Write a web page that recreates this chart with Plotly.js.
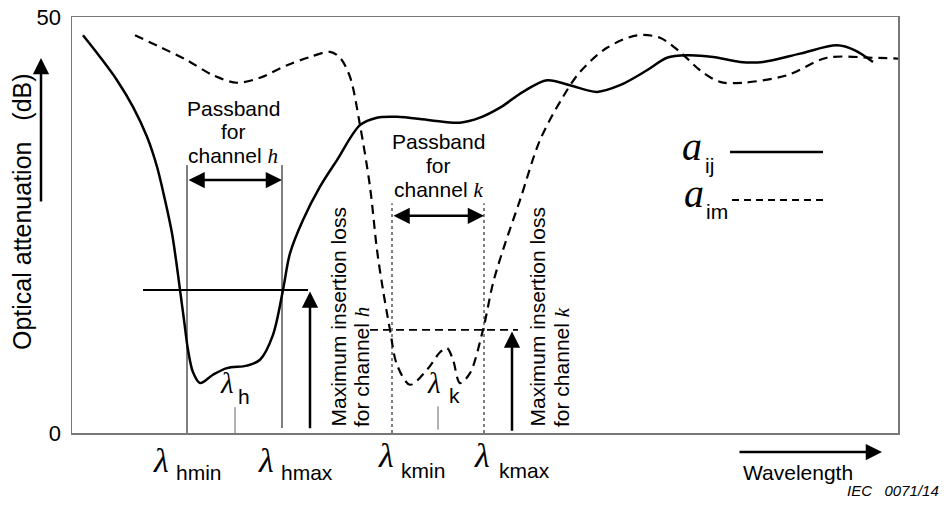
<!DOCTYPE html>
<html>
<head>
<meta charset="utf-8">
<script src="https://cdn.plot.ly/plotly-3.0.1.min.js"></script>
<style>html,body{margin:0;padding:0;background:#fff;}#chart{width:944px;height:509px;}</style>
</head>
<body>
<div id="chart"></div>
<script>
// ---- data (wavelength in arbitrary units, attenuation in dB) ----
const aijWavelength = [11, 28, 45, 61, 75, 85, 93, 100, 104, 108, 112, 116, 121, 128, 141, 155, 175, 188, 201, 211, 218, 231, 248, 265, 288, 305, 325, 358, 388, 408, 428, 451, 475, 498, 525, 548, 575, 595, 615, 641, 668, 691, 728, 765, 783, 801];
const aijAttenuation = [47.8, 45.2, 42.4, 39.2, 35.6, 32.0, 28.0, 24.0, 20.8, 17.2, 13.6, 10.0, 7.3, 6.0, 7.0, 7.8, 8.1, 8.8, 11.8, 17.2, 21.6, 25.6, 29.6, 32.8, 37.0, 37.9, 38.0, 37.6, 37.3, 37.9, 39.1, 41.0, 42.4, 41.8, 41.0, 41.8, 43.6, 45.1, 45.4, 45.2, 44.6, 44.6, 45.6, 46.6, 46.0, 44.6];
const aimWavelength = [63, 88, 115, 141, 165, 188, 215, 238, 258, 268, 278, 288, 298, 305, 311, 318, 325, 338, 355, 368, 375, 381, 388, 398, 411, 421, 431, 448, 468, 491, 508, 535, 565, 588, 608, 628, 648, 671, 715, 755, 801, 828];
const aimAttenuation = [47.8, 46.4, 44.8, 43.0, 42.1, 42.7, 44.2, 45.2, 45.8, 45.1, 42.8, 37.0, 29.6, 22.0, 17.2, 12.4, 8.2, 5.8, 7.6, 9.7, 10.2, 8.8, 6.0, 7.2, 12.4, 18.0, 22.0, 28.0, 35.2, 40.4, 43.4, 46.3, 47.8, 47.5, 45.8, 43.6, 42.2, 42.1, 43.0, 45.1, 45.1, 45.0];
const lambdaLabels = ["hmin", "hmax", "h", "kmin", "kmax", "k"];
const lambdaValues = [115, 210, 163, 320, 412, 366];
const maxInsertionLoss = { h: 17.2, k: 12.4 };
const yTickValues = [0, 50];
const yTickLabels = ["0", "50"];

// ---- layout helpers (pixel -> paper) ----
const L = 72, T = 17, W = 826, H = 416;
const PX = x => (x - L) / W;
const PY = y => (T + H - y) / H;
const SANS = "Arial, Liberation Sans, sans-serif";
const SERIF = "Liberation Serif, Times New Roman, serif";
const lam = Object.fromEntries(lambdaLabels.map((k, i) => [k, lambdaValues[i]]));

function txt(text, x, y, size, o) {
  o = o || {};
  return Object.assign({
    text: text, xref: 'paper', yref: 'paper', x: PX(x), y: PY(y),
    xanchor: 'center', yanchor: 'middle', showarrow: false,
    font: { family: o.family || SANS, size: size, color: '#000' }, borderpad: 0
  }, o.extra || {});
}
function dataArrow(x0, y0, x1, y1, both) {
  return {
    x: x1, y: y1, ax: x0, ay: y0, xref: 'x', yref: 'y', axref: 'x', ayref: 'y',
    text: '', showarrow: true, arrowhead: 2, arrowsize: 1.3, arrowwidth: 2.5,
    arrowcolor: '#000', arrowside: both ? 'end+start' : 'end', standoff: 0, startstandoff: 0
  };
}
const ital = s => '<span style="font-family:Liberation Serif;font-style:italic">' + s + '</span>';

const traces = [
  { x: aijWavelength, y: aijAttenuation, mode: 'lines', type: 'scatter', cliponaxis: false,
    line: { color: '#000', width: 2.5, shape: 'spline', smoothing: 0.9 }, hoverinfo: 'skip' },
  { x: aimWavelength, y: aimAttenuation, mode: 'lines', type: 'scatter', cliponaxis: false,
    line: { color: '#000', width: 2.2, dash: '9px,6px', shape: 'spline', smoothing: 0.9 }, hoverinfo: 'skip' }
];

const shapes = [
  { type: 'line', xref: 'x', yref: 'y', x0: lam.hmin, x1: lam.hmin, y0: 0, y1: 32.2, line: { color: '#000', width: 1 } },
  { type: 'line', xref: 'x', yref: 'y', x0: lam.hmax, x1: lam.hmax, y0: 0.6, y1: 32.2, line: { color: '#000', width: 1 } },
  { type: 'line', xref: 'x', yref: 'y', x0: lam.h, x1: lam.h, y0: 0, y1: 3.1, line: { color: '#666', width: 1 } },
  { type: 'line', xref: 'x', yref: 'y', x0: lam.kmin, x1: lam.kmin, y0: 0, y1: 27.6, line: { color: '#000', width: 1, dash: '3px,3px' } },
  { type: 'line', xref: 'x', yref: 'y', x0: lam.kmax, x1: lam.kmax, y0: 0, y1: 27.6, line: { color: '#000', width: 1, dash: '3px,3px' } },
  { type: 'line', xref: 'x', yref: 'y', x0: lam.k, x1: lam.k, y0: 0.4, y1: 3.2, line: { color: '#666', width: 1 } },
  { type: 'line', xref: 'x', yref: 'y', x0: 71, x1: 236, y0: maxInsertionLoss.h, y1: maxInsertionLoss.h, line: { color: '#000', width: 2 } },
  { type: 'line', xref: 'x', yref: 'y', x0: 298, x1: 446, y0: maxInsertionLoss.k, y1: maxInsertionLoss.k, line: { color: '#000', width: 1.8, dash: '8px,5px' } },
  // legend samples
  { type: 'line', xref: 'paper', yref: 'paper', x0: PX(730), x1: PX(823), y0: PY(152), y1: PY(152), line: { color: '#000', width: 2.4 } },
  { type: 'line', xref: 'paper', yref: 'paper', x0: PX(732), x1: PX(823), y0: PY(200), y1: PY(200), line: { color: '#000', width: 2, dash: '7px,5px' } }
];

const annotations = [
  // y-axis title and arrow
  txt('Optical attenuation   (dB)', 22, 212, 25, { extra: { textangle: -90 } }),
  { xref: 'paper', yref: 'paper', x: PX(41), y: PY(58), ax: 0, ay: 145, text: '', showarrow: true,
    arrowhead: 2, arrowsize: 1.3, arrowwidth: 2.5, arrowcolor: '#000', standoff: 0 },
  // wavelength arrow and label
  { xref: 'paper', yref: 'paper', x: PX(882), y: PY(452), ax: -144, ay: 0, text: '', showarrow: true,
    arrowhead: 2, arrowsize: 1.3, arrowwidth: 2.5, arrowcolor: '#000', standoff: 0 },
  txt('Wavelength', 742, 472, 21, { extra: { xanchor: 'left' } }),
  txt('<i>IEC   0071/14</i>', 940, 490, 15, { extra: { xanchor: 'right' } }),
  // passband h
  txt('Passband', 233, 108, 21), txt('for', 233, 131, 21), txt('channel ' + ital('h'), 233, 156, 21),
  dataArrow(lam.hmin, 30.4, lam.hmax, 30.4, true),
  // passband k
  txt('Passband', 438, 141, 21), txt('for', 438, 166, 21), txt('channel ' + ital('k'), 438, 190, 21),
  dataArrow(lam.kmin, 26.1, lam.kmax, 26.1, true),
  // max insertion loss arrows
  dataArrow(238, 0.4, 238, maxInsertionLoss.h - 0.2, false),
  dataArrow(440, 0.1, 440, maxInsertionLoss.k - 0.2, false),
  // rotated labels
  txt('Maximum insertion loss', 338, 428, 21, { extra: { textangle: -90, yanchor: 'bottom' } }),
  txt('for channel ' + ital('h'), 362, 428, 21, { extra: { textangle: -90, yanchor: 'bottom' } }),
  txt('Maximum insertion loss', 537, 428, 21, { extra: { textangle: -90, yanchor: 'bottom' } }),
  txt('for channel ' + ital('k'), 562, 428, 21, { extra: { textangle: -90, yanchor: 'bottom' } }),
  // lambda labels below axis
  txt('λ', 152, 460, 34, { family: SERIF, extra: { xanchor: 'left' } }),
  txt('hmin', 175, 472, 21, { extra: { xanchor: 'left' } }),
  txt('λ', 257, 460, 34, { family: SERIF, extra: { xanchor: 'left' } }),
  txt('hmax', 280, 472, 21, { extra: { xanchor: 'left' } }),
  txt('λ', 377, 456, 34, { family: SERIF, extra: { xanchor: 'left' } }),
  txt('kmin', 400, 470, 21, { extra: { xanchor: 'left' } }),
  txt('λ', 473, 456, 34, { family: SERIF, extra: { xanchor: 'left' } }),
  txt('kmax', 498, 470, 21, { extra: { xanchor: 'left' } }),
  // lambda h / k inside
  txt('λ', 219, 383, 29, { family: SERIF, extra: { xanchor: 'left' } }),
  txt('h', 237, 396, 21, { extra: { xanchor: 'left' } }),
  txt('λ', 426, 383, 29, { family: SERIF, extra: { xanchor: 'left' } }),
  txt('k', 448, 395, 21, { extra: { xanchor: 'left' } }),
  // legend text
  txt('a', 681, 146, 40, { family: SERIF, extra: { xanchor: 'left' } }),
  txt('ij', 704, 166, 21, { extra: { xanchor: 'left' } }),
  txt('a', 683, 193, 40, { family: SERIF, extra: { xanchor: 'left' } }),
  txt('im', 705, 211, 21, { extra: { xanchor: 'left' } })
];
// italic for serif glyphs
annotations.forEach(a => { if (a.font && a.font.family === SERIF) a.text = '<i>' + a.text + '</i>'; });

const layout = {
  width: 944, height: 509,
  margin: { l: L, r: 944 - L - W, t: T, b: 509 - T - H, pad: 0 },
  paper_bgcolor: '#fff', plot_bgcolor: '#fff', showlegend: false,
  xaxis: { range: [0, W], showgrid: false, zeroline: false, showticklabels: false, ticks: '',
    showline: true, mirror: true, linecolor: '#777', linewidth: 1.5, fixedrange: true },
  yaxis: { range: [0, 50], showgrid: false, zeroline: false, tickvals: yTickValues, ticktext: yTickLabels,
    ticks: '', tickfont: { family: SANS, size: 22, color: '#000' }, ticklabelstandoff: 5,
    showline: true, mirror: true, linecolor: '#777', linewidth: 1.5, fixedrange: true },
  shapes: shapes, annotations: annotations
};
Plotly.newPlot('chart', traces, layout, { displayModeBar: false, staticPlot: true });
</script>
</body>
</html>
